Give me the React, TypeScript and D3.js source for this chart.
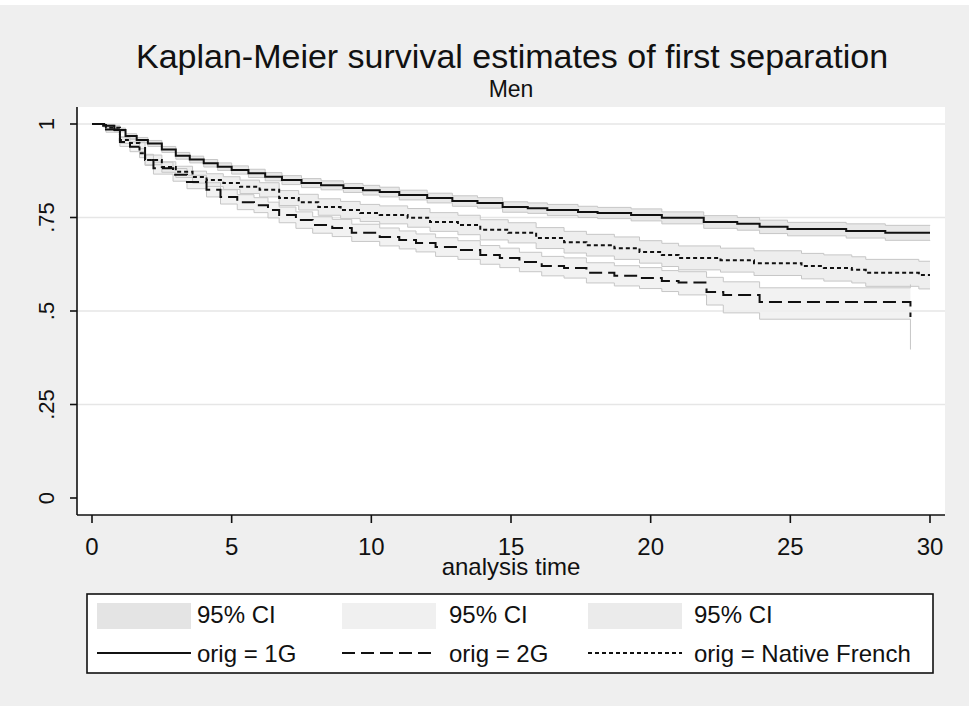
import React from "react";
import * as d3 from "d3";

// Kaplan-Meier step points (analysis time, survival) with 95% CI bounds
const T_1G = [0, 0.4, 0.8, 1.2, 1.6, 2, 2.5, 3, 3.5, 4, 4.5, 5, 5.6, 6.2, 6.8, 7.5, 8.2, 9, 9.7, 10.3, 11, 12, 12.9, 13.8, 14.7, 15.6, 16.3, 17.4, 18.1, 19.3, 20.4, 21.9, 23.1, 23.9, 24.9, 27, 28.4, 30];
const S_1G = [1, 0.995, 0.984, 0.968, 0.957, 0.948, 0.932, 0.915, 0.905, 0.895, 0.886, 0.877, 0.868, 0.859, 0.85, 0.842, 0.836, 0.829, 0.823, 0.818, 0.81, 0.802, 0.794, 0.789, 0.778, 0.775, 0.77, 0.765, 0.762, 0.757, 0.749, 0.738, 0.733, 0.725, 0.719, 0.714, 0.709, 0.709];
const LO_1G = [1, 0.992, 0.979, 0.962, 0.95, 0.94, 0.924, 0.906, 0.896, 0.885, 0.876, 0.866, 0.857, 0.848, 0.838, 0.83, 0.824, 0.817, 0.81, 0.805, 0.797, 0.789, 0.78, 0.775, 0.764, 0.761, 0.755, 0.75, 0.747, 0.741, 0.733, 0.721, 0.716, 0.707, 0.701, 0.695, 0.689, 0.688];
const HI_1G = [1, 0.998, 0.989, 0.974, 0.964, 0.956, 0.94, 0.924, 0.914, 0.905, 0.896, 0.888, 0.879, 0.87, 0.862, 0.854, 0.848, 0.841, 0.836, 0.831, 0.823, 0.815, 0.808, 0.803, 0.792, 0.789, 0.785, 0.78, 0.777, 0.773, 0.765, 0.755, 0.75, 0.743, 0.737, 0.733, 0.729, 0.73];

const T_2G = [0, 0.5, 1, 1.36, 1.9, 2.2, 2.9, 3.4, 4.1, 4.6, 5.2, 5.8, 6.3, 6.7, 7.3, 7.9, 8.6, 9.3, 10.3, 11, 11.6, 12.3, 13.1, 13.9, 14.6, 15.3, 16.1, 16.9, 17.7, 18.7, 19.6, 20.4, 21, 22, 22.6, 23.9, 29.3];
const S_2G = [1, 0.985, 0.952, 0.939, 0.904, 0.882, 0.864, 0.845, 0.824, 0.805, 0.791, 0.783, 0.77, 0.757, 0.743, 0.73, 0.722, 0.709, 0.698, 0.69, 0.682, 0.671, 0.663, 0.65, 0.642, 0.631, 0.62, 0.615, 0.602, 0.594, 0.588, 0.58, 0.576, 0.551, 0.543, 0.524, 0.484];
const LO_2G = [1, 0.978, 0.94, 0.926, 0.889, 0.866, 0.847, 0.827, 0.805, 0.786, 0.771, 0.763, 0.749, 0.736, 0.721, 0.708, 0.699, 0.686, 0.674, 0.666, 0.658, 0.646, 0.638, 0.625, 0.616, 0.605, 0.594, 0.588, 0.575, 0.567, 0.56, 0.552, 0.543, 0.516, 0.495, 0.478, 0.397];
const HI_2G = [1, 0.992, 0.964, 0.952, 0.919, 0.898, 0.881, 0.863, 0.843, 0.824, 0.811, 0.803, 0.791, 0.778, 0.765, 0.752, 0.745, 0.732, 0.722, 0.714, 0.706, 0.696, 0.688, 0.675, 0.668, 0.657, 0.646, 0.642, 0.629, 0.621, 0.616, 0.608, 0.605, 0.59, 0.578, 0.562, 0.571];

const T_NF = [0, 0.5, 1, 1.36, 1.7, 1.9, 2.5, 3, 3.6, 4.1, 4.7, 5.3, 6, 6.7, 7.4, 8.1, 8.9, 9.6, 10.3, 11.3, 12.1, 13.1, 13.9, 14.9, 15.9, 16.9, 17.7, 18.7, 19.6, 20.4, 21, 22.5, 23.7, 25.4, 26.2, 27.2, 27.7, 29.6, 30];
const S_NF = [1, 0.99, 0.957, 0.949, 0.922, 0.904, 0.885, 0.872, 0.858, 0.85, 0.842, 0.832, 0.824, 0.802, 0.791, 0.778, 0.77, 0.762, 0.757, 0.749, 0.738, 0.73, 0.717, 0.709, 0.695, 0.684, 0.676, 0.668, 0.658, 0.65, 0.642, 0.636, 0.628, 0.62, 0.615, 0.61, 0.602, 0.596, 0.596];
const LO_NF = [1, 0.985, 0.948, 0.939, 0.91, 0.891, 0.871, 0.857, 0.842, 0.833, 0.825, 0.814, 0.805, 0.782, 0.77, 0.756, 0.747, 0.739, 0.733, 0.724, 0.713, 0.704, 0.69, 0.682, 0.667, 0.655, 0.647, 0.638, 0.628, 0.619, 0.61, 0.604, 0.595, 0.586, 0.58, 0.575, 0.566, 0.559, 0.559];
const HI_NF = [1, 0.995, 0.966, 0.959, 0.934, 0.917, 0.899, 0.887, 0.874, 0.867, 0.859, 0.85, 0.843, 0.822, 0.812, 0.8, 0.793, 0.785, 0.781, 0.774, 0.763, 0.756, 0.744, 0.736, 0.723, 0.713, 0.705, 0.698, 0.688, 0.681, 0.674, 0.668, 0.661, 0.654, 0.65, 0.645, 0.638, 0.633, 0.633];

const X_TICKS = [0, 5, 10, 15, 20, 25, 30];
const Y_TICKS = [0, 0.25, 0.5, 0.75, 1];
const Y_TICK_LABELS = ["0", ".25", ".5", ".75", "1"];
const GROUP_LABELS = ["orig = 1G", "orig = 2G", "orig = Native French"];
const CI_LABEL = "95% CI";

const FONT = "'Liberation Sans', Arial, Helvetica, sans-serif";

type Pt = { t: number; s: number; lo: number; hi: number };

function zip(t: number[], s: number[], lo: number[], hi: number[]): Pt[] {
  return t.map((v, i) => ({ t: v, s: s[i], lo: lo[i], hi: hi[i] }));
}

const groups = [
  { label: GROUP_LABELS[0], data: zip(T_1G, S_1G, LO_1G, HI_1G), fill: "#e4e4e4", dash: "none" },
  { label: GROUP_LABELS[1], data: zip(T_2G, S_2G, LO_2G, HI_2G), fill: "#f0f0f0", dash: "13 6" },
  { label: GROUP_LABELS[2], data: zip(T_NF, S_NF, LO_NF, HI_NF), fill: "#ebebeb", dash: "4 3" },
];

export default function App() {
  const W = 975;
  const H = 706;
  const plot = { left: 77, right: 945, top: 107, bottom: 515 };

  const x = d3.scaleLinear().domain([0, 30]).range([92, 930]);
  const y = d3.scaleLinear().domain([0, 1]).range([498, 124]);

  const area = d3
    .area<Pt>()
    .x((d) => x(d.t))
    .y0((d) => y(d.lo))
    .y1((d) => y(d.hi))
    .curve(d3.curveStepAfter);
  const lineOf = (acc: (d: Pt) => number) =>
    d3
      .line<Pt>()
      .x((d) => x(d.t))
      .y((d) => y(acc(d)))
      .curve(d3.curveStepAfter);

  const legend = { left: 87, right: 933, top: 594, bottom: 673 };
  const colX = [97, 342, 588];
  const textX = [197, 449, 694];

  return (
    <svg
      width={W}
      height={H}
      viewBox={`0 0 ${W} ${H}`}
      style={{ position: "absolute", left: 0, top: 0, display: "block" }}
      fontFamily={FONT}
    >
      <rect x={0} y={0} width={W} height={H} fill="#ffffff" />
      <rect x={0} y={5} width={969} height={H - 5} fill="#efefef" />

      {/* titles */}
      <text x={512} y={68} textAnchor="middle" fontSize={34} fill="#111">
        Kaplan-Meier survival estimates of first separation
      </text>
      <text x={511} y={97} textAnchor="middle" fontSize={23} fill="#111">
        Men
      </text>

      {/* plot region */}
      <rect
        x={plot.left}
        y={plot.top}
        width={plot.right - plot.left}
        height={plot.bottom - plot.top}
        fill="#ffffff"
      />
      {Y_TICKS.filter((v) => v > 0).map((v) => (
        <line
          key={v}
          x1={plot.left}
          x2={plot.right}
          y1={y(v)}
          y2={y(v)}
          stroke="#e6e6e6"
          strokeWidth={1.5}
        />
      ))}

      {/* confidence bands */}
      {groups.map((g) => (
        <path key={g.label + "a"} d={area(g.data) || ""} fill={g.fill} fillOpacity={0.85} />
      ))}
      {groups.map((g) => (
        <g key={g.label + "o"} fill="none" stroke="#c6c6c6" strokeWidth={1}>
          <path d={lineOf((d) => d.lo)(g.data) || ""} />
          <path d={lineOf((d) => d.hi)(g.data) || ""} />
        </g>
      ))}

      {/* survival curves */}
      {groups.map((g) => (
        <path
          key={g.label + "l"}
          d={lineOf((d) => d.s)(g.data) || ""}
          fill="none"
          stroke="#111"
          strokeWidth={2}
          strokeDasharray={g.dash}
        />
      ))}

      {/* axes */}
      <line x1={plot.left} x2={plot.left} y1={plot.top} y2={plot.bottom} stroke="#111" strokeWidth={1.6} />
      <line x1={plot.left} x2={plot.right} y1={plot.bottom} y2={plot.bottom} stroke="#111" strokeWidth={1.6} />
      {Y_TICKS.map((v, i) => (
        <g key={"yt" + v}>
          <line x1={plot.left - 7} x2={plot.left} y1={y(v)} y2={y(v)} stroke="#111" strokeWidth={1.6} />
          <text
            transform={`translate(54,${y(v)}) rotate(-90)`}
            textAnchor="middle"
            fontSize={22}
            fill="#111"
          >
            {Y_TICK_LABELS[i]}
          </text>
        </g>
      ))}
      {X_TICKS.map((v) => (
        <g key={"xt" + v}>
          <line x1={x(v)} x2={x(v)} y1={plot.bottom} y2={plot.bottom + 8} stroke="#111" strokeWidth={1.6} />
          <text x={x(v)} y={555} textAnchor="middle" fontSize={24} fill="#111">
            {v}
          </text>
        </g>
      ))}
      <text x={511} y={575} textAnchor="middle" fontSize={24} fill="#111">
        analysis time
      </text>

      {/* legend */}
      <rect
        x={legend.left}
        y={legend.top}
        width={legend.right - legend.left}
        height={legend.bottom - legend.top}
        fill="#ffffff"
        stroke="#111"
        strokeWidth={1.6}
      />
      {groups.map((g, i) => (
        <g key={g.label + "leg"}>
          <rect x={colX[i]} y={603} width={94} height={26} fill={g.fill} />
          <text x={textX[i]} y={623} fontSize={24} fill="#111">
            {CI_LABEL}
          </text>
          <line
            x1={colX[i]}
            x2={colX[i] + 94}
            y1={653}
            y2={653}
            stroke="#111"
            strokeWidth={2}
            strokeDasharray={g.dash}
          />
          <text x={textX[i]} y={662} fontSize={24} fill="#111">
            {g.label}
          </text>
        </g>
      ))}
    </svg>
  );
}
